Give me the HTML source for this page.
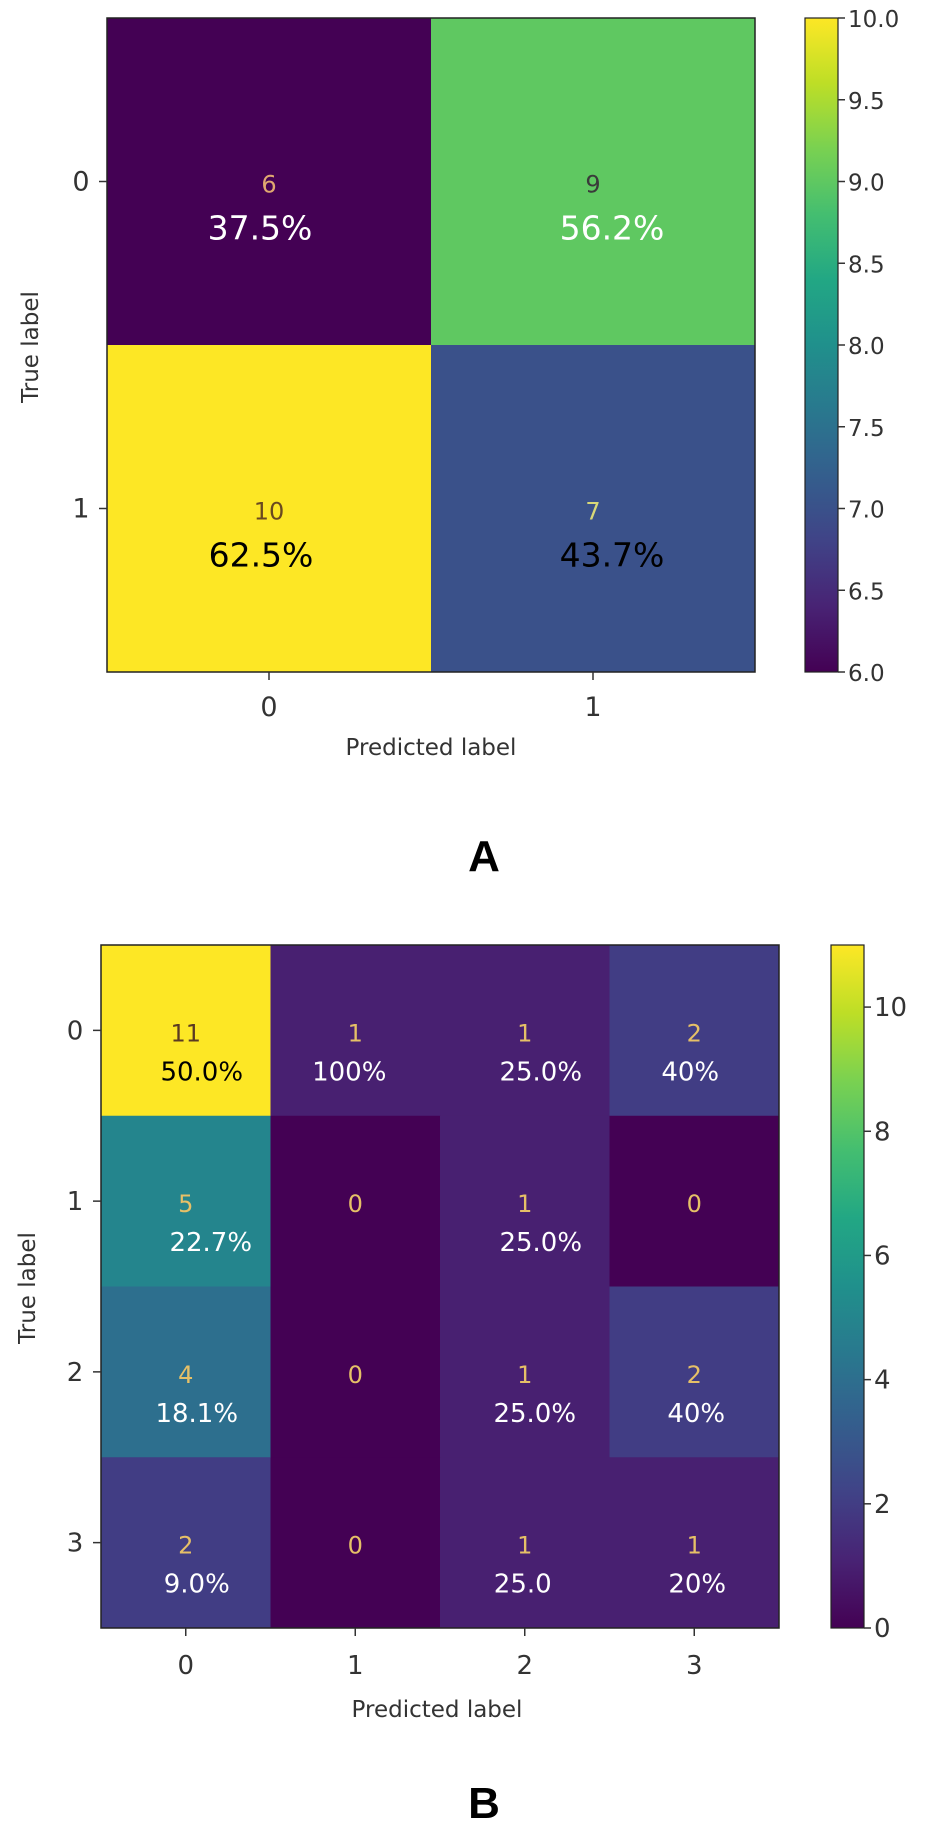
<!DOCTYPE html>
<html><head><meta charset="utf-8">
<style>
html,body{margin:0;padding:0;background:#fff;}
svg{display:block;}
text{font-family:"DejaVu Sans","Liberation Sans",sans-serif;}
</style></head>
<body>
<svg id="fig" width="925" height="1839" viewBox="0 0 925 1839" xmlns="http://www.w3.org/2000/svg">
<g id="chartA"></g>
<g id="chartB"></g>
<text x="484" y="871" text-anchor="middle" font-size="44" font-weight="bold" style="font-family:'Liberation Sans',sans-serif">A</text>
<text x="484" y="1818" text-anchor="middle" font-size="44" font-weight="bold" style="font-family:'Liberation Sans',sans-serif">B</text>
</svg>
<script>
// ---- Chart A data ----
const aLabels = ["0","1"];
const aCounts = [[6,9],[10,7]];
const aPercents = [["37.5%","56.2%"],["62.5%","43.7%"]];
const aCbarTicks = [6.0,6.5,7.0,7.5,8.0,8.5,9.0,9.5,10.0];
const aCbarTickLabels = ["6.0","6.5","7.0","7.5","8.0","8.5","9.0","9.5","10.0"];
// ---- Chart B data ----
const bLabels = ["0","1","2","3"];
const bCounts = [[11,1,1,2],[5,0,1,0],[4,0,1,2],[2,0,1,1]];
const bPercents = [["50.0%","100%","25.0%","40%"],["22.7%","","25.0%",""],["18.1%","","25.0%","40%"],["9.0%","","25.0","20%"]];
const bCbarTicks = [0,2,4,6,8,10];
const bCbarTickLabels = ["0","2","4","6","8","10"];

// styling (not data): per-cell percent text horizontal nudges and text colours
const aPctNudge = [[-9,19],[-8,19]];
const aCntColor = [["#e0a870","#3a3a3a"],["#6a4a20","#d8d878"]];
const aPctColor = [["#fff","#fff"],["#000","#000"]];
const bPctNudge = [[16,-6,16,-4],[25,0,16,0],[11,0,10,2],[11,0,-2,3]];

const NS="http://www.w3.org/2000/svg";
const VIR=[[68,1,84],[72,35,116],[64,67,135],[52,94,141],[41,120,142],[32,144,140],[34,167,132],[68,190,112],[121,209,81],[189,222,38],[253,231,37]];
function viridis(t){t=Math.max(0,Math.min(1,t));const p=t*10,i=Math.min(9,Math.floor(p)),f=p-i;const a=VIR[i],b=VIR[i+1];return `rgb(${a.map((v,k)=>Math.round(v+(b[k]-v)*f)).join(',')})`;}
function mk(parent,tag,attrs,txt){const e=document.createElementNS(NS,tag);for(const k in attrs)e.setAttribute(k,attrs[k]);if(txt!==undefined)e.textContent=txt;parent.appendChild(e);return e;}

function drawCM(g,cfg){
  const n=cfg.labels.length;
  const cw=(cfg.x1-cfg.x0)/n, ch=(cfg.y1-cfg.y0)/n;
  const xs=i=>cfg.x0+i*cw, ys=j=>cfg.y0+j*ch;
  const vmin=cfg.vmin,vmax=cfg.vmax;
  for(let r=0;r<n;r++)for(let c=0;c<n;c++){
    const v=cfg.counts[r][c];const t=(v-vmin)/(vmax-vmin);
    const rect=mk(g,'rect',{x:xs(c),y:ys(r),width:cw+0.5,height:ch+0.5,fill:viridis(t)});
    
    
    const bright=t>0.7;
    const cx=xs(c)+cw/2, cy=ys(r)+ch/2;
    const cc=cfg.cntColor?cfg.cntColor[r][c]:(bright?'#5a3a22':'#e6c067');
    const ct=mk(g,'text',{x:cx,y:cy+cfg.cntDy,'text-anchor':'middle','font-size':cfg.cntFs,fill:cc},String(v));
    
    
    const p=cfg.percents[r][c];
    if(p){
      const pc=cfg.pctColor?cfg.pctColor[r][c]:(bright?'#000':'#fff');
      const pt=mk(g,'text',{x:cx+cfg.pctNudge[r][c],y:cy+cfg.pctDy,'text-anchor':'middle','font-size':cfg.pctFs,fill:pc},p);
      
      
    }
  }
  const fr=mk(g,'rect',{x:cfg.x0,y:cfg.y0,width:cfg.x1-cfg.x0,height:cfg.y1-cfg.y0,fill:'none',stroke:'#222','stroke-width':1.5});
  
  
  for(let i=0;i<n;i++){
    const yc=ys(i)+ch/2, xc=xs(i)+cw/2;
    mk(g,'line',{x1:cfg.x0-8,y1:yc,x2:cfg.x0,y2:yc,stroke:'#333','stroke-width':1.5});
    const yl=mk(g,'text',{x:cfg.x0-26,y:yc+9,'text-anchor':'middle','font-size':cfg.tickFs,fill:'#333'},cfg.labels[i]);
    
    
    mk(g,'line',{x1:xc,y1:cfg.y1,x2:xc,y2:cfg.y1+8,stroke:'#333','stroke-width':1.5});
    const xl=mk(g,'text',{x:xc,y:cfg.xTickY,'text-anchor':'middle','font-size':cfg.tickFs,fill:'#333'},cfg.labels[i]);
    
    
  }
  const xt=mk(g,'text',{x:cfg.xTitleX,y:cfg.xTitleY,'text-anchor':'middle','font-size':23,fill:'#333'},'Predicted label');
  
  
  const yt=mk(g,'text',{x:0,y:0,'text-anchor':'middle','font-size':23,fill:'#333',transform:`translate(${cfg.yTitleX},${cfg.yTitleY}) rotate(-90)`},'True label');
  
  
  const id='grad'+cfg.id;
  const defs=mk(g,'defs',{});
  const lg=mk(defs,'linearGradient',{id:id,x1:0,y1:1,x2:0,y2:0});
  for(let k=0;k<=20;k++)mk(lg,'stop',{offset:(k/20),'stop-color':viridis(k/20)});
  const cb=mk(g,'rect',{x:cfg.cbX0,y:cfg.y0,width:cfg.cbX1-cfg.cbX0,height:cfg.y1-cfg.y0,fill:`url(#${id})`,stroke:'#222','stroke-width':1.2});
  
  
  const cy=v=>cfg.y1-(v-vmin)/(vmax-vmin)*(cfg.y1-cfg.y0);
  cfg.cbTicks.forEach((v,i)=>{
    const y=cy(v);
    mk(g,'line',{x1:cfg.cbX1,y1:y,x2:cfg.cbX1+7,y2:y,stroke:'#333','stroke-width':1.5});
    const tl=mk(g,'text',{x:cfg.cbX1+10,y:y+9,'font-size':cfg.cbFs,fill:'#333'},cfg.cbLabels[i]);
    
    
  });
}

drawCM(document.getElementById('chartA'),{id:'A',labels:aLabels,counts:aCounts,percents:aPercents,vmin:6,vmax:10,
  x0:107,x1:755,y0:18,y1:672,cntDy:11,cntFs:24,pctDy:58,pctFs:33,pctNudge:aPctNudge,cntColor:aCntColor,pctColor:aPctColor,
  tickFs:27,xTickY:716,xTitleX:431,xTitleY:755,yTitleX:38,yTitleY:347,
  cbX0:805,cbX1:838,cbTicks:aCbarTicks,cbLabels:aCbarTickLabels,cbFs:23});

drawCM(document.getElementById('chartB'),{id:'B',labels:bLabels,counts:bCounts,percents:bPercents,vmin:0,vmax:11,
  x0:101,x1:779,y0:945,y1:1628,cntDy:11,cntFs:24,pctDy:50,pctFs:26,pctNudge:bPctNudge,
  tickFs:26,xTickY:1674,xTitleX:437,xTitleY:1717,yTitleX:35,yTitleY:1288,
  cbX0:831,cbX1:864,cbTicks:bCbarTicks,cbLabels:bCbarTickLabels,cbFs:26});
</script>
</body></html>
